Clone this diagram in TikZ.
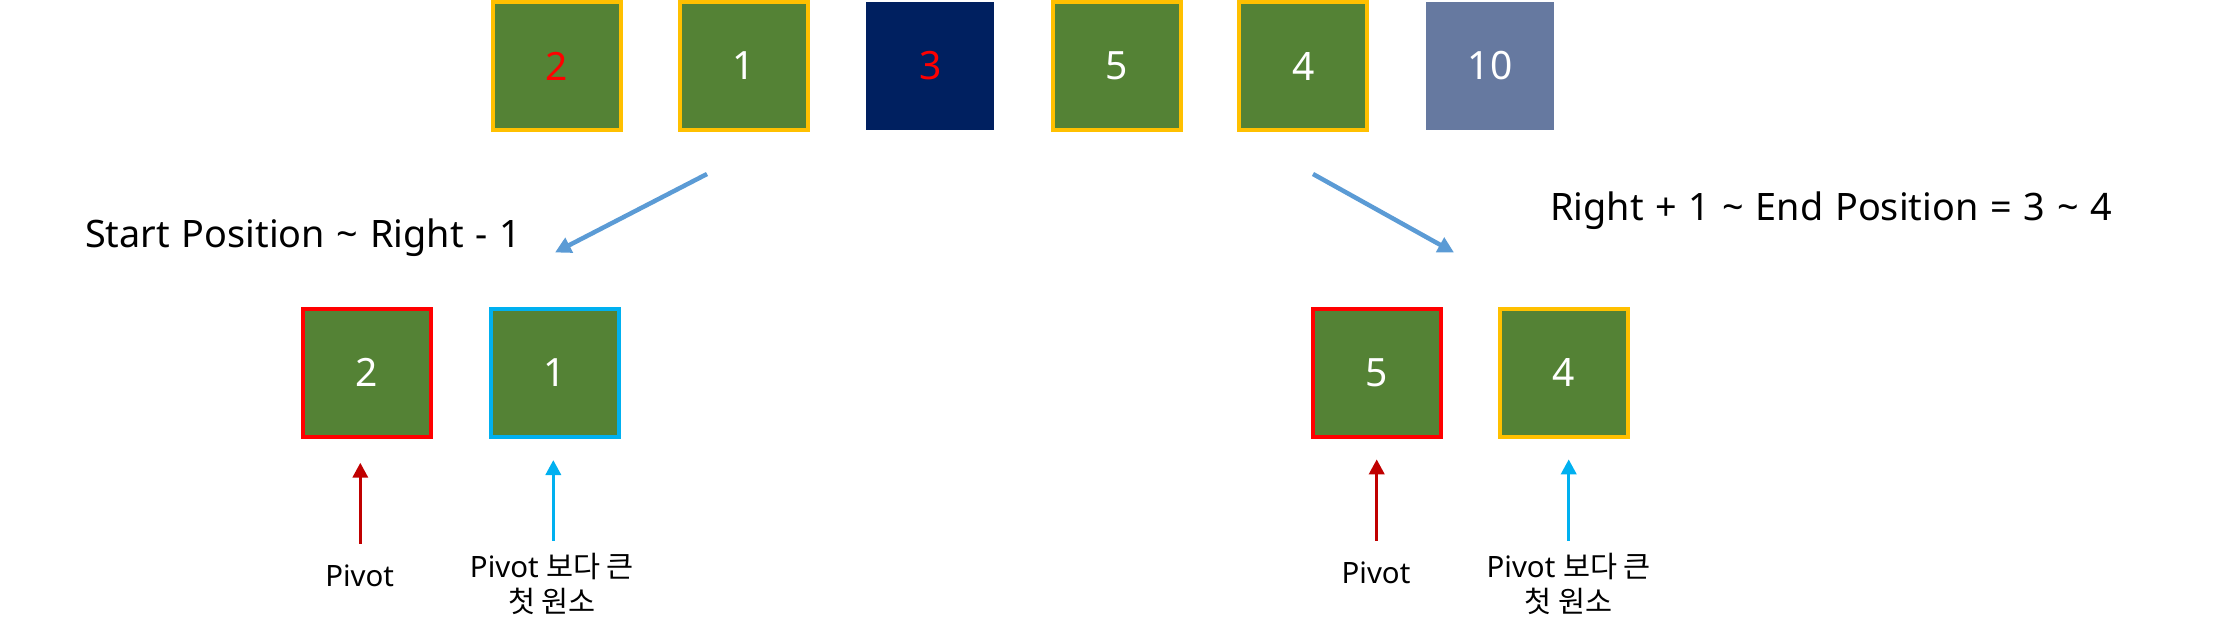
\documentclass[tikz,border=0pt]{standalone}
\usepackage{fontspec}
\setmainfont{Noto Sans}
\newfontfamily\kr{Noto Sans CJK KR}
\newfontfamily\headfont[WordSpace=1.2]{Noto Sans}
\usetikzlibrary{arrows.meta}
\definecolor{cgreen}{HTML}{548235}
\definecolor{cnavy}{HTML}{002060}
\definecolor{cslate}{HTML}{6679A0}
\definecolor{cyellow}{HTML}{FFC000}
\definecolor{cred}{HTML}{FF0000}
\definecolor{ccyan}{HTML}{00B0F0}
\definecolor{cdarkred}{HTML}{C00000}
\definecolor{carrow}{HTML}{5B9BD5}
\begin{document}
\begin{tikzpicture}[x=1pt,y=-1pt,
  cell/.style={rectangle, minimum width=128pt, minimum height=128pt, inner sep=0pt,
    fill=cgreen, text=white, font=\fontsize{39}{39}\selectfont},
  yb/.style={draw=cyellow, line width=4pt},
  rb/.style={draw=cred, line width=4pt},
  cb/.style={draw=ccyan, line width=4pt},
  headtxt/.style={anchor=base west, inner sep=0pt, font=\headfont\fontsize{37.8}{45}\selectfont},
  lbl/.style={anchor=base, inner sep=0pt, align=center, font=\fontsize{29.4}{35}\selectfont},
  diag/.style={draw=carrow, line width=4.5pt, -{Triangle[length=16pt,width=16pt]}},
  uparr/.style={line width=3.5pt, -{Triangle[length=15pt,width=15pt]}}
]
\useasboundingbox (0,0) rectangle (2223,637);

% top row
\node[cell, yb, text=cred] (t1) at (557,66) {2};
\node[cell, yb] (t2) at (743.6,66) {1};
\node[cell, fill=cnavy, text=cred] (t3) at (930.2,66) {3};
\node[cell, yb] (t4) at (1116.8,66) {5};
\node[cell, yb] (t5) at (1303.4,66) {4};
\node[cell, fill=cslate] (t6) at (1490,66) {10};

% bottom boxes
\node[cell, rb] (l1) at (367,372.7) {2};
\node[cell, cb] (l2) at (555,372.7) {1};
\node[cell, rb] (r1) at (1377,372.7) {5};
\node[cell, yb] (r2) at (1564,372.7) {4};

% headings
\node[headtxt] (hl) at (85,247.3) {Start Position \textasciitilde{} Right - 1};
\node[headtxt] (hr) at (1550,220.7) {Right + 1 \textasciitilde{} End Position = 3 \textasciitilde{} 4};

% diagonal arrows
\coordinate (dl0) at (707,174);
\coordinate (dl1) at (555,252.5);
\coordinate (dr0) at (1313,174);
\coordinate (dr1) at (1454,252.5);
\draw[diag] (dl0) -- (dl1);
\draw[diag] (dr0) -- (dr1);

% labels
\node[lbl] (p1) at (359.7,586.7) {Pivot};
\node[lbl] (q1) at (552,612.7) {Pivot {\kr 보다 큰}\\{\kr 첫 원소}};
\node[lbl] (p2) at (1376,583.3) {Pivot};
\node[lbl] (q2) at (1568.7,612.3) {Pivot {\kr 보다 큰}\\{\kr 첫 원소}};

% vertical arrows
\coordinate (a1) at (360.3,543.7);
\coordinate (a2) at (553.3,540.7);
\coordinate (a3) at (1376.7,540.7);
\coordinate (a4) at (1568.7,540.7);
\draw[uparr, draw=cdarkred, fill=cdarkred, shorten >=24pt] (a1) -- (a1 |- l1.south);
\draw[uparr, draw=ccyan, fill=ccyan, shorten >=21.3pt] (a2) -- (a2 |- l2.south);
\draw[uparr, draw=cdarkred, fill=cdarkred, shorten >=20.6pt] (a3) -- (a3 |- r1.south);
\draw[uparr, draw=ccyan, fill=ccyan, shorten >=20.6pt] (a4) -- (a4 |- r2.south);
\end{tikzpicture}
\end{document}
